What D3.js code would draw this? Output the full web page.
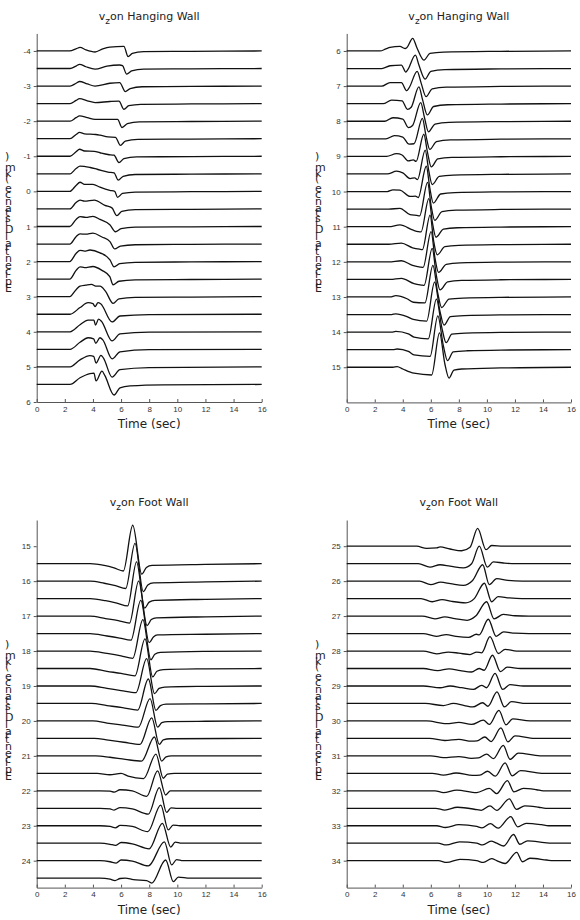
<!DOCTYPE html>
<html>
<head>
<meta charset="utf-8">
<script src="https://cdn.jsdelivr.net/npm/d3@7"></script>
<style>
  body { margin: 0; background: #fff; }
  svg { display: block; font-family: "DejaVu Sans", sans-serif; }
  .axis path, .axis line { stroke: #555; }
  .axis text { fill: #333; font-size: 8px; }
</style>
</head>
<body>
<div id="chart"></div>
<script>
// time ticks shared by all panels
var timeTicks = [0, 2, 4, 6, 8, 10, 12, 14, 16];

// panel 1: vz on hanging wall, offsets -4 .. 5.5
var offsetsA = [-4, -3.5, -3, -2.5, -2, -1.5, -1, -0.5, 0, 0.5, 1, 1.5, 2, 2.5, 3, 3.5, 4, 4.5, 5, 5.5];
var ticksA = [-4, -3, -2, -1, 0, 1, 2, 3, 4, 5, 6];
var tracesA = [
  [0,0, 2.35,0, 2.8,0.06, 3.08,0.1, 3.5,0.03, 4.15,-0.03, 4.7,0.06, 5.2,0.11, 6.2,0.13, 6.5,-0.16, 6.8,-0.07, 7.6,-0.02, 11,-0.01, 16,0],
  [0,0, 2.37,0, 2.8,0.07, 3.05,0.12, 3.5,0.05, 4.15,-0.02, 5.0,0.07, 5.9,0.1, 6.1,0.08, 6.4,-0.16, 6.75,-0.07, 7.6,-0.02, 11,-0.01, 16,0],
  [0,0, 2.37,0, 2.8,0.08, 3.05,0.13, 3.6,0.06, 4.15,0.0, 5.2,0.08, 5.9,0.1, 6.3,-0.16, 6.65,-0.07, 7.5,-0.02, 11,-0.01, 16,0],
  [0,0, 2.37,0, 2.8,0.09, 3.05,0.14, 3.6,0.08, 4.15,0.03, 5.2,0.06, 5.85,0.07, 6.2,-0.16, 6.55,-0.06, 7.4,-0.02, 11,-0.01, 16,0],
  [0,0, 2.37,0, 2.8,0.1, 3.05,0.15, 3.6,0.1, 4.15,0.05, 5.1,0.05, 5.75,0.05, 6.07,-0.18, 6.45,-0.07, 7.3,-0.02, 11,-0.01, 16,0],
  [0,0, 2.37,0, 2.8,0.12, 3.05,0.18, 3.4,0.14, 4.2,0.12, 4.5,0.1, 5.07,0.05, 5.6,0.04, 5.95,-0.19, 6.3,-0.07, 7.2,-0.02, 11,-0.01, 16,0],
  [0,0, 2.37,0, 2.8,0.13, 3.05,0.2, 3.4,0.15, 4.1,0.14, 4.5,0.1, 5.07,0.05, 5.5,0.03, 5.85,-0.18, 6.2,-0.07, 7.1,-0.02, 11,-0.01, 16,0],
  [0,0, 2.37,0, 2.8,0.15, 3.08,0.22, 3.8,0.18, 4.3,0.13, 5.07,0.05, 5.5,0.03, 5.8,-0.18, 6.15,-0.07, 7.0,-0.02, 11,-0.01, 16,0],
  [0,0, 2.35,0, 2.8,0.17, 3.08,0.26, 3.4,0.2, 4.0,0.2, 4.5,0.12, 5.2,0.03, 5.55,0.0, 5.75,-0.17, 6.1,-0.06, 7.0,-0.02, 11,-0.01, 16,0],
  [0,0, 2.35,0, 2.8,0.18, 3.08,0.25, 3.4,0.22, 4.1,0.25, 4.85,0.1, 5.35,0.03, 5.7,-0.19, 6.05,-0.07, 7.0,-0.02, 11,-0.01, 16,0],
  [0,0, 2.35,0, 2.8,0.2, 3.08,0.28, 3.5,0.26, 4.0,0.29, 4.5,0.2, 5.2,0.05, 5.6,-0.15, 6.0,-0.06, 7.0,-0.02, 11,-0.01, 16,0],
  [0,0, 2.35,0, 2.8,0.21, 3.08,0.29, 3.5,0.28, 4.0,0.31, 4.64,0.2, 5.21,0.07, 5.55,-0.14, 5.95,-0.06, 7.0,-0.02, 11,-0.01, 16,0],
  [0,0, 2.35,0, 2.8,0.23, 3.08,0.32, 3.4,0.3, 3.79,0.33, 4.5,0.25, 5.21,0.05, 5.5,-0.15, 5.9,-0.06, 7.0,-0.02, 11,-0.01, 16,0],
  [0,0, 2.35,0, 2.8,0.25, 3.08,0.35, 3.4,0.33, 4.0,0.36, 4.64,0.25, 5.2,0.07, 5.43,-0.16, 5.85,-0.06, 7.0,-0.02, 11,-0.01, 16,0],
  [0,0, 2.35,0, 2.8,0.2, 3.08,0.3, 3.5,0.33, 3.9,0.35, 4.2,0.3, 4.5,0.3, 4.9,0.15, 5.43,-0.19, 5.85,-0.06, 7.0,-0.02, 11,-0.01, 16,0],
  [0,0, 2.37,0, 3.08,0.19, 3.65,0.33, 4.0,0.3, 4.15,0.22, 4.36,0.33, 4.55,0.3, 5.36,-0.22, 5.92,-0.05, 8.0,-0.01, 16,0],
  [0,0, 2.37,0, 3.08,0.2, 3.65,0.33, 4.07,0.33, 4.18,0.19, 4.4,0.36, 4.6,0.3, 5.36,-0.26, 5.92,-0.06, 8.0,-0.01, 16,0],
  [0,0, 2.37,0, 3.08,0.2, 3.65,0.33, 4.05,0.3, 4.2,0.17, 4.5,0.33, 4.7,0.27, 5.36,-0.27, 5.92,-0.07, 8.0,-0.01, 16,0],
  [0,0, 2.37,0, 3.08,0.2, 3.79,0.32, 4.05,0.3, 4.22,0.11, 4.57,0.33, 4.75,0.25, 5.36,-0.29, 5.92,-0.08, 8.0,-0.02, 16,0],
  [0,0, 2.37,0, 3.08,0.19, 3.79,0.31, 4.07,0.32, 4.22,0.1, 4.64,0.38, 4.85,0.25, 5.5,-0.3, 5.92,-0.1, 6.64,-0.04, 9,-0.01, 16,0]
];

// panel 2: vz on hanging wall, offsets 6 .. 15
var offsetsB = [6, 6.5, 7, 7.5, 8, 8.5, 9, 9.5, 10, 10.5, 11, 11.5, 12, 12.5, 13, 13.5, 14, 14.5, 15];
var ticksB = [6, 7, 8, 9, 10, 11, 12, 13, 14, 15];
var tracesB = [
  [0,0, 2.38,0, 2.8,0.06, 3.09,0.1, 3.8,0.13, 4.16,0.07, 4.3,0.1, 4.71,0.36, 5.0,0.1, 5.51,-0.26, 5.94,-0.07, 6.9,-0.03, 11,-0.01, 16,0],
  [0,0, 2.5,0, 3.09,0.08, 3.9,0.1, 4.22,-0.1, 4.35,-0.04, 4.9,0.38, 5.15,0.1, 5.59,-0.3, 6.0,-0.08, 7.0,-0.03, 11,-0.01, 16,0],
  [0,0, 2.5,0, 3.09,0.1, 3.9,0.1, 4.28,-0.13, 4.45,-0.05, 5.03,0.42, 5.3,0.1, 5.66,-0.3, 6.1,-0.08, 7.1,-0.03, 11,-0.01, 16,0],
  [0,0, 2.6,0, 3.2,0.1, 3.95,0.08, 4.33,-0.16, 4.6,-0.1, 5.15,0.48, 5.42,0.1, 5.75,-0.32, 6.2,-0.08, 7.2,-0.03, 11,-0.01, 16,0],
  [0,0, 2.7,0, 3.3,0.1, 4.0,0.06, 4.4,-0.18, 4.7,-0.12, 5.28,0.53, 5.55,0.1, 5.83,-0.3, 6.3,-0.08, 7.3,-0.03, 11,-0.01, 16,0],
  [0,0, 2.8,0, 3.4,0.09, 4.0,0.05, 4.45,-0.15, 4.8,-0.14, 5.4,0.58, 5.65,0.1, 5.93,-0.3, 6.4,-0.08, 7.4,-0.03, 11,-0.01, 16,0],
  [0,0, 2.85,0, 3.56,0.08, 3.95,0.04, 4.4,-0.13, 4.75,-0.1, 4.95,-0.14, 5.5,0.63, 5.77,0.1, 6.03,-0.3, 6.5,-0.07, 7.5,-0.03, 11,-0.01, 16,0],
  [0,0, 2.9,0, 3.56,0.08, 4.0,0.03, 4.52,-0.13, 4.85,-0.11, 5.05,-0.16, 5.6,0.68, 5.85,0.1, 6.1,-0.3, 6.6,-0.07, 7.6,-0.03, 11,-0.01, 16,0],
  [0,0, 2.9,0, 3.3,0.05, 3.8,0.04, 4.52,-0.14, 4.9,-0.13, 5.1,-0.17, 5.68,0.72, 5.93,0.1, 6.18,-0.33, 6.7,-0.07, 7.7,-0.03, 11,-0.01, 16,0],
  [0,0, 3.0,0, 3.8,0.02, 4.52,-0.16, 5.0,-0.18, 5.2,-0.19, 5.77,0.76, 6.02,0.1, 6.28,-0.32, 6.8,-0.07, 7.8,-0.03, 11,-0.01, 16,0],
  [0,0, 3.0,0, 3.8,0.05, 4.75,-0.1, 5.1,-0.14, 5.3,-0.15, 5.86,0.8, 6.12,0.1, 6.37,-0.3, 6.9,-0.07, 7.9,-0.03, 11,-0.01, 16,0],
  [0,0, 3.0,0, 3.9,0.03, 4.7,-0.1, 5.2,-0.14, 5.4,-0.15, 5.95,0.83, 6.2,0.1, 6.46,-0.3, 7.0,-0.07, 8.0,-0.03, 11,-0.01, 16,0],
  [0,0, 3.0,0, 3.9,0.03, 4.7,-0.1, 5.25,-0.15, 5.45,-0.16, 6.02,0.86, 6.3,0.1, 6.55,-0.3, 7.1,-0.07, 8.1,-0.03, 11,-0.01, 16,0],
  [0,0, 3.1,0, 3.9,0.03, 4.8,-0.12, 5.33,-0.16, 5.52,-0.17, 6.1,0.88, 6.4,0.1, 6.66,-0.3, 7.2,-0.07, 8.2,-0.03, 11,-0.01, 16,0],
  [0,0, 3.1,0, 3.5,0.04, 4.3,-0.05, 4.75,-0.15, 5.58,-0.17, 6.15,0.9, 6.5,0.1, 6.77,-0.3, 7.3,-0.06, 8.3,-0.03, 11,-0.01, 16,0],
  [0,0, 3.2,0, 3.5,0.02, 4.3,-0.06, 4.75,-0.14, 5.7,-0.19, 6.27,0.92, 6.65,0.1, 6.94,-0.3, 7.4,-0.06, 8.4,-0.03, 11,-0.01, 16,0],
  [0,0, 3.2,0, 3.5,0.02, 4.4,-0.05, 4.8,-0.14, 5.82,-0.19, 6.4,0.94, 6.8,0.1, 7.09,-0.3, 7.5,-0.06, 8.5,-0.03, 11,-0.01, 16,0],
  [0,0, 3.3,0, 3.6,0.02, 4.4,-0.05, 4.8,-0.15, 5.95,-0.19, 6.5,0.96, 6.9,0.1, 7.19,-0.31, 7.6,-0.06, 8.6,-0.03, 11,-0.01, 16,0],
  [0,0, 3.3,0, 3.6,0.02, 4.0,-0.05, 4.8,-0.17, 6.06,-0.22, 6.62,0.98, 7.0,0.1, 7.3,-0.31, 7.65,-0.08, 8.2,-0.05, 11,-0.02, 16,0]
];

// panel 3: vz on foot wall, offsets 15.5 .. 24.5
var offsetsC = [15.5, 16, 16.5, 17, 17.5, 18, 18.5, 19, 19.5, 20, 20.5, 21, 21.5, 22, 22.5, 23, 23.5, 24, 24.5];
var ticksC = [15, 16, 17, 18, 19, 20, 21, 22, 23, 24];
var tracesC = [
  [0,0, 3.8,0, 4.8,-0.05, 5.5,-0.12, 6.16,-0.21, 6.83,1.1, 7.47,-0.3, 7.8,-0.11, 8.2,-0.05, 12,-0.02, 16,0],
  [0,0, 3.8,0, 4.8,-0.06, 5.6,-0.13, 6.33,-0.21, 6.99,1.08, 7.58,-0.3, 7.9,-0.11, 8.3,-0.05, 12,-0.02, 16,0],
  [0,0, 3.8,0, 4.9,-0.06, 5.7,-0.13, 6.47,-0.21, 7.1,1.05, 7.68,-0.27, 8.0,-0.1, 8.4,-0.05, 12,-0.02, 16,0],
  [0,0, 3.8,0, 4.9,-0.07, 5.8,-0.13, 6.6,-0.2, 7.25,1.0, 7.85,-0.27, 8.15,-0.1, 8.5,-0.05, 12,-0.02, 16,0],
  [0,0, 3.8,0, 5.0,-0.07, 5.9,-0.13, 6.7,-0.19, 7.4,0.95, 8.0,-0.26, 8.3,-0.1, 8.6,-0.04, 12,-0.02, 16,0],
  [0,0, 3.8,0, 5.0,-0.07, 6.0,-0.14, 6.83,-0.21, 7.55,0.9, 8.12,-0.25, 8.4,-0.09, 8.8,-0.04, 12,-0.01, 16,0],
  [0,0, 3.8,0, 5.0,-0.08, 6.0,-0.14, 6.99,-0.21, 7.7,0.85, 8.25,-0.24, 8.55,-0.08, 9.0,-0.03, 12,-0.01, 16,0],
  [0,0, 3.8,0, 5.0,-0.07, 6.0,-0.13, 7.06,-0.19, 7.82,0.78, 8.38,-0.22, 8.7,-0.07, 9.1,-0.03, 12,-0.01, 16,0],
  [0,0, 3.9,0, 5.0,-0.06, 6.1,-0.12, 7.18,-0.19, 7.94,0.7, 8.48,-0.2, 8.8,-0.06, 9.2,-0.02, 12,-0.01, 16,0],
  [0,0, 4.0,0, 5.0,-0.06, 6.1,-0.12, 7.23,-0.18, 8.06,0.64, 8.6,-0.18, 8.9,-0.05, 9.3,-0.02, 12,-0.01, 16,0],
  [0,0, 4.1,0, 5.1,-0.05, 6.2,-0.11, 7.35,-0.17, 8.18,0.59, 8.72,-0.17, 9.0,-0.04, 9.5,-0.01, 16,0],
  [0,0, 4.2,0, 5.2,-0.04, 6.3,-0.1, 7.46,-0.15, 8.37,0.54, 8.89,-0.15, 9.2,-0.03, 9.6,0, 16,0],
  [0,0, 4.3,0, 5.2,-0.04, 6.0,0.0, 6.5,-0.08, 7.6,-0.15, 8.48,0.55, 9.0,-0.14, 9.3,-0.02, 9.8,0, 16,0],
  [0,0, 4.5,0, 5.22,-0.01, 5.5,-0.04, 5.93,0.03, 6.8,0.0, 7.82,-0.16, 8.6,0.57, 9.17,-0.12, 9.5,0.0, 16,0],
  [0,0, 4.5,0, 5.22,-0.02, 5.5,-0.05, 5.93,0.02, 6.8,-0.02, 7.94,-0.17, 8.72,0.59, 9.24,-0.12, 9.55,0.01, 10,0, 16,0],
  [0,0, 4.5,0, 5.22,-0.02, 5.6,-0.06, 5.93,0.01, 6.8,-0.02, 7.9,-0.17, 8.82,0.59, 9.36,-0.12, 9.7,0.02, 10.2,0, 16,0],
  [0,0, 4.5,0, 5.22,-0.03, 5.6,-0.06, 6.0,0.02, 6.8,-0.02, 8.0,-0.16, 8.94,0.57, 9.53,-0.11, 9.85,0.03, 10.3,0, 16,0],
  [0,0, 4.5,0, 5.22,-0.03, 5.65,-0.07, 6.0,0.02, 6.8,-0.01, 7.94,-0.15, 9.08,0.54, 9.6,-0.12, 9.95,0.03, 10.4,0, 16,0],
  [0,0, 4.5,0, 5.22,-0.03, 5.57,-0.07, 5.93,-0.01, 6.3,0.0, 6.87,-0.04, 7.82,-0.07, 8.18,-0.14, 9.17,0.52, 9.72,-0.1, 10.07,0.03, 10.9,0, 16,0]
];

// panel 4: vz on foot wall, offsets 25 .. 34
var offsetsD = [25, 25.5, 26, 26.5, 27, 27.5, 28, 28.5, 29, 29.5, 30, 30.5, 31, 31.5, 32, 32.5, 33, 33.5, 34];
var ticksD = [25, 26, 27, 28, 29, 30, 31, 32, 33, 34];
var tracesD = [
  [0,0, 4.99,0, 5.7,-0.06, 6.42,-0.05, 6.66,-0.02, 7.37,-0.08, 8.2,-0.13, 8.8,-0.03, 9.34,0.51, 9.94,-0.1, 10.34,0.02, 11.17,0, 16,0],
  [0,0, 5.11,0, 5.94,-0.1, 6.66,-0.03, 7.37,-0.07, 8.32,-0.12, 8.91,0.0, 9.46,0.5, 10.03,-0.1, 10.46,0.05, 11.17,0.02, 12,0, 16,0],
  [0,0, 5.2,0, 6.0,-0.1, 6.7,-0.03, 7.4,-0.07, 8.32,-0.12, 8.98,0.02, 9.7,0.47, 10.17,-0.1, 10.7,0.07, 11.5,0.02, 12.5,0, 16,0],
  [0,0, 5.3,0, 6.1,-0.09, 6.8,-0.03, 7.5,-0.08, 8.5,-0.12, 9.1,0.0, 9.82,0.44, 10.34,-0.09, 10.8,0.06, 11.6,0.02, 12.5,0, 16,0],
  [0,0, 5.4,0, 6.3,-0.08, 7.0,-0.02, 7.7,-0.07, 8.6,-0.12, 9.2,0.0, 9.98,0.41, 10.51,-0.08, 11.17,0.05, 12,0.01, 13,0, 16,0],
  [0,0, 5.45,0, 6.4,-0.08, 7.1,-0.03, 7.8,-0.08, 8.7,-0.11, 9.25,-0.02, 9.45,-0.04, 10.1,0.41, 10.66,-0.08, 11.2,0.05, 12,0.01, 13,0, 16,0],
  [0,0, 5.47,0, 6.42,-0.08, 7.25,-0.03, 8.0,-0.06, 8.8,-0.1, 9.27,-0.03, 9.63,-0.05, 10.22,0.41, 10.82,-0.07, 11.3,0.05, 12.13,0, 16,0],
  [0,0, 5.47,0, 6.5,-0.06, 7.3,-0.01, 8.1,-0.06, 8.9,-0.1, 9.45,0.0, 9.8,-0.05, 10.4,0.38, 10.97,-0.09, 11.45,0.04, 12.4,0, 16,0],
  [0,0, 5.47,0, 6.66,-0.05, 7.37,0.0, 8.2,-0.05, 9.03,-0.1, 9.63,0.02, 9.98,-0.05, 10.58,0.36, 11.13,-0.1, 11.65,0.04, 12.6,0, 16,0],
  [0,0, 5.6,0, 6.9,-0.06, 7.6,0.0, 8.4,-0.06, 9.0,-0.1, 9.7,0.02, 10.08,-0.08, 10.72,0.33, 11.25,-0.1, 11.75,0.05, 12.8,0, 16,0],
  [0,0, 5.7,0, 7.13,-0.08, 8.0,-0.04, 8.91,-0.1, 9.75,0.02, 10.17,-0.1, 10.86,0.3, 11.36,-0.11, 11.84,0.06, 13.07,0, 16,0],
  [0,0, 5.9,0, 7.0,-0.06, 8.0,-0.03, 8.9,-0.08, 9.3,-0.07, 9.85,0.04, 10.3,-0.09, 11.0,0.3, 11.5,-0.1, 12.0,0.07, 13.4,0, 16,0],
  [0,0, 6.0,0, 6.9,-0.05, 8.0,-0.02, 8.9,-0.07, 9.4,-0.06, 9.98,0.05, 10.46,-0.08, 11.17,0.3, 11.65,-0.1, 12.24,0.08, 13.79,0, 16,0],
  [0,0, 6.1,0, 6.9,-0.05, 7.8,0.01, 9.0,-0.06, 9.5,-0.05, 10.05,0.06, 10.6,-0.08, 11.3,0.3, 11.8,-0.07, 12.4,0.08, 13.9,0, 16,0],
  [0,0, 6.3,0, 6.9,-0.05, 7.85,0.02, 9.27,-0.05, 10.17,0.07, 10.7,-0.08, 11.46,0.29, 11.93,-0.03, 12.6,0.07, 13.55,0.03, 14.02,0, 16,0],
  [0,0, 6.35,0, 7.0,-0.05, 7.9,0.03, 9.3,-0.04, 9.6,-0.06, 10.22,0.07, 10.7,-0.06, 11.6,0.27, 12.1,-0.03, 12.7,0.07, 13.7,0.03, 14.2,0, 16,0],
  [0,0, 6.4,0, 7.05,-0.05, 8.0,0.03, 9.27,-0.02, 9.65,-0.06, 10.25,0.06, 10.8,-0.07, 11.7,0.26, 12.2,-0.03, 12.8,0.07, 13.9,0.03, 14.4,0, 16,0],
  [0,0, 6.5,0, 7.1,-0.05, 8.05,0.04, 9.27,0.0, 9.7,-0.05, 10.3,0.06, 10.7,0.0, 11.2,-0.08, 11.9,0.25, 12.35,-0.03, 12.9,0.07, 14.1,0.02, 14.6,0, 16,0],
  [0,0, 6.54,0, 7.13,-0.05, 8.08,0.04, 9.27,0.0, 9.75,-0.05, 10.34,0.06, 10.7,0.0, 11.3,-0.08, 12.13,0.24, 12.53,-0.03, 13.07,0.07, 14.26,0.02, 14.74,0, 16,0]
];

var svg = d3.select('#chart')
  .append('svg')
  .attr('width', 580)
  .attr('height', 920);

function drawPanel(opt) {
  var x = d3.scaleLinear().domain([0, 16]).range([opt.left, opt.right]);
  var y = d3.scaleLinear().domain(opt.yDomain).range([opt.top, opt.bottom]);

  var g = svg.append('g');

  g.append('g')
    .attr('class', 'axis')
    .attr('transform', 'translate(0,' + opt.bottom + ')')
    .call(d3.axisBottom(x).tickValues(timeTicks).tickSizeInner(-3).tickSizeOuter(0).tickPadding(4))
    .call(function(a) { a.selectAll('text').attr('dy', '0.71em'); });

  g.append('g')
    .attr('class', 'axis')
    .attr('transform', 'translate(' + opt.left + ',0)')
    .call(d3.axisLeft(y).tickValues(opt.ticks).tickSizeInner(3).tickSizeOuter(0).tickPadding(3)
      .tickFormat(function(d) { return String(d); }));

  var line = d3.line()
    .curve(d3.curveMonotoneX)
    .x(function(p) { return x(p[0]); })
    .y(function(p) { return p[1]; });

  opt.traces.forEach(function(tr, i) {
    var off = opt.offsets[i];
    var pts = [];
    for (var k = 0; k < tr.length; k += 2) {
      pts.push([tr[k], y(off - tr[k + 1])]);
    }
    g.append('path')
      .attr('d', line(pts))
      .attr('fill', 'none')
      .attr('stroke', '#111')
      .attr('stroke-width', 1.3)
      .attr('stroke-linejoin', 'round');
  });

  var cx = (opt.left + opt.right) / 2;
  var title = g.append('text')
    .attr('x', cx)
    .attr('y', opt.titleY)
    .attr('text-anchor', 'middle')
    .style('font-size', '11px')
    .attr('fill', '#222');
  title.append('tspan').text('v');
  title.append('tspan').attr('dy', 4).style('font-size', '9px').text('z');
  title.append('tspan').attr('dy', -4).text('on ' + opt.title);

  g.append('text')
    .attr('x', cx)
    .attr('y', opt.bottom + 26)
    .attr('text-anchor', 'middle')
    .style('font-size', '12px')
    .attr('fill', '#222')
    .text('Time (sec)');

  // the source renders this label with upright glyphs stacked bottom-to-top
  g.append('text')
    .attr('transform', 'translate(' + opt.labelX + ',' + opt.labelY + ') rotate(-90)')
    .attr('text-anchor', 'middle')
    .attr('rotate', 90)
    .style('font-size', '11px')
    .attr('fill', '#222')
    .text('Epicentral Distance (km)');
}

drawPanel({ left: 36.7, right: 261.7, top: 33.4, bottom: 402, yDomain: [-4.5, 6], labelX: 5, labelY: 224,
  offsets: offsetsA, traces: tracesA, ticks: ticksA, title: 'Hanging Wall', titleY: 20 });
drawPanel({ left: 346.7, right: 571, top: 33.4, bottom: 402.4, yDomain: [5.5, 16], labelX: 315, labelY: 224,
  offsets: offsetsB, traces: tracesB, ticks: ticksB, title: 'Hanging Wall', titleY: 20 });
drawPanel({ left: 36.7, right: 261.7, top: 520, bottom: 887.6, yDomain: [14.25, 24.77], labelX: 5, labelY: 712,
  offsets: offsetsC, traces: tracesC, ticks: ticksC, title: 'Foot Wall', titleY: 506 });
drawPanel({ left: 346.7, right: 571, top: 520, bottom: 887.6, yDomain: [24.25, 34.77], labelX: 315, labelY: 712,
  offsets: offsetsD, traces: tracesD, ticks: ticksD, title: 'Foot Wall', titleY: 506 });
</script>
</body>
</html>
